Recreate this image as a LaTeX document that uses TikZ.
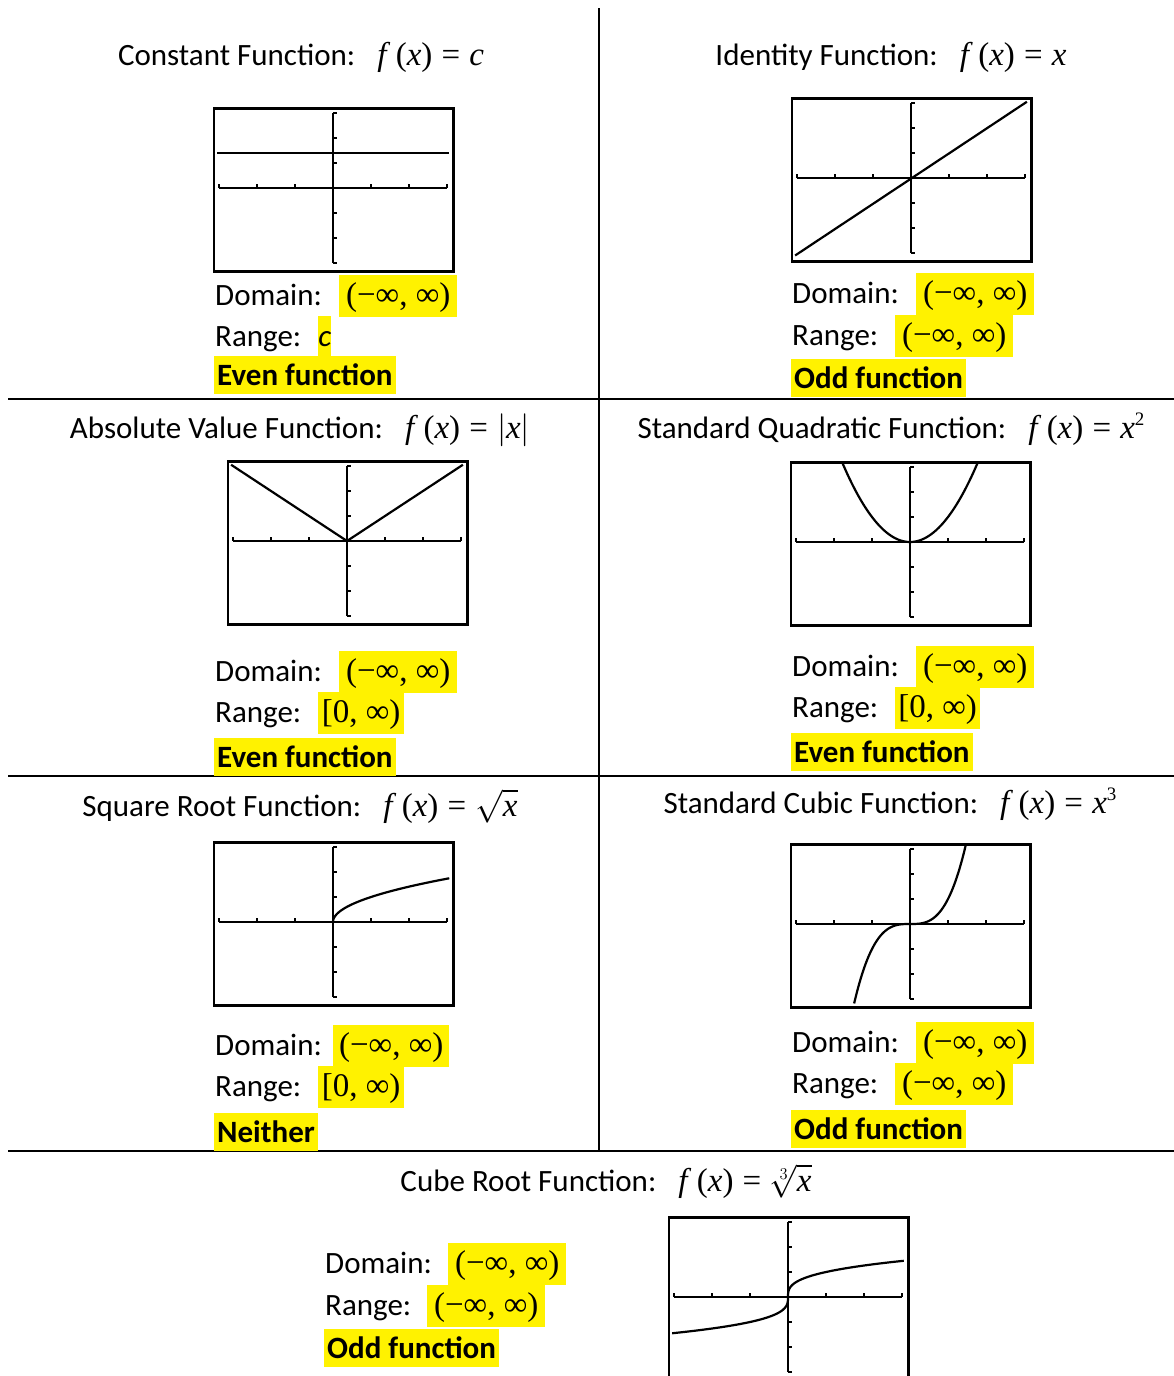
\RequirePackage{fix-cm}
\documentclass[tikz,border=0pt]{standalone}
\usepackage{fontspec}
\setmainfont{Carlito}
\newfontfamily\tnr{Liberation Serif}
\usetikzlibrary{positioning}

% formula text in Times-like serif
\newcommand\mth[1]{{\tnr\fontsize{33}{40}\selectfont #1}}
\newcommand\fofx{\textit{f}\,(\textit{x})\;=\;}
\newcommand\pw[1]{\raisebox{13pt}{\fontsize{19}{20}\selectfont #1}}
% calculator window: frame, axes and ticks
\newcommand\calcscreen{%
  \draw[frame] (-3.13,-3.33) rectangle (3.17,3.18);
  \draw[axis] (-3,0) -- (3,0);
  \draw[axis] (0,-3) -- (0,3);
  \foreach \t in {-3,-2,-1,1,2,3} {
    \draw[axis] (\t,0) -- (\t,0.16);
    \draw[axis] (0,\t) -- (0.1,\t);
  }%
}

\begin{document}
\begin{tikzpicture}[x=1pt,y=-1pt,
      rule/.style={line width=2.4pt},
      frame/.style={line width=2.8pt},
      axis/.style={line width=2.2pt},
      curve/.style={line width=2.2pt},
      ttl/.style={anchor=base,inner sep=0pt,font=\fontsize{31}{37}\selectfont},
      lbl/.style={anchor=base west,inner sep=0pt,font=\fontsize{31}{37}\selectfont},
      hl/.style={fill=yellow,anchor=base west,inner xsep=0pt,inner ysep=0pt,text height=30pt,text depth=12pt,font=\tnr\fontsize{33}{40}\selectfont},
      tag/.style={fill=yellow,anchor=base west,inner xsep=3pt,inner ysep=0pt,text height=29pt,text depth=9pt,font=\bfseries\fontsize{31}{37}\selectfont}
]
\useasboundingbox (0,0) rectangle (1174,1376);

% table rules
\draw[rule] (599,8) -- (599,1151);
\foreach \y in {399,776,1151} \draw[rule] (8,\y) -- (1174,\y);

% titles
\node[ttl] (t1) at (301,65) {Constant Function:\hspace{22pt}\mth{\fofx\textit{c}}};
\node[ttl] (t2) at (891,65) {Identity Function:\hspace{22pt}\mth{\fofx\textit{x}}};
\node[ttl] (t3) at (300,438) {Absolute Value Function:\hspace{22pt}\mth{\fofx$\bigl|\mbox{\textit{x}}\bigr|$}};
\node[ttl] (t4) at (891,438) {Standard Quadratic Function:\hspace{22pt}\mth{\fofx\textit{x}\pw{2}}};
\node[ttl] (t5) at (300,816) {Square Root Function:\hspace{22pt}\mth{\fofx$\sqrt{\mbox{\textit{x}}\vphantom{f}}$}};
\node[ttl] (t6) at (890,813) {Standard Cubic Function:\hspace{22pt}\mth{\fofx\textit{x}\pw{3}}};
\node[ttl] (t7) at (606,1191) {Cube Root Function:\hspace{22pt}\mth{\fofx$\sqrt[3]{\mbox{\textit{x}}\vphantom{f}}$}};

% graphs
\begin{scope}[shift={(333,188)},x=38pt,y=25pt]
  \calcscreen
  \draw[curve] (-3.05,1.4) -- (3.05,1.4);
\end{scope}
\begin{scope}[shift={(911,178)},x=38pt,y=25pt]
  \calcscreen
  \draw[curve] (-3.05,-3.1) -- (3.05,3.05);
\end{scope}
\begin{scope}[shift={(347,541)},x=38pt,y=25pt]
  \calcscreen
  \draw[curve] (-3.05,3.05) -- (0,0) -- (3.05,3.05);
\end{scope}
\begin{scope}[shift={(910,542)},x=38pt,y=25pt]
  \calcscreen
  \draw[curve] plot[domain=-1.77:1.77,samples=60,smooth] (\x,{\x*\x});
\end{scope}
\begin{scope}[shift={(333,922)},x=38pt,y=25pt]
  \calcscreen
  \draw[curve] plot[domain=0:1.75,samples=60,smooth] ({\x*\x},\x);
\end{scope}
\begin{scope}[shift={(910,924)},x=38pt,y=25pt]
  \calcscreen
  \draw[curve] plot[domain=-1.47:1.47,samples=60,smooth] (\x,{\x*\x*\x});
\end{scope}
\begin{scope}[shift={(788,1297)},x=38pt,y=25pt]
  \calcscreen
  \draw[curve] plot[domain=-1.45:1.45,samples=60,smooth] ({\x*\x*\x},\x);
\end{scope}

% domain / range labels
\foreach \n/\bx/\by/\ry in {1/215/305/346,2/792/303/345,3/215/681/722,4/792/676/717,5/215/1055/1096,6/792/1052/1093,7/325/1273/1315} {
  \node[lbl] (dom\n) at (\bx,\by) {Domain:};
  \node[lbl] (rng\n) at (\bx,\ry) {Range:};
}

% highlighted answers
\node[hl,minimum width=118pt] (dv1) at (339,305) {(−∞,\ ∞)};
\node[hl,minimum width=13pt,font=\itshape\fontsize{31}{37}\selectfont] (rv1) at (318,346) {c};
\node[tag] (p1) at (214,385) {Even function};

\node[hl,minimum width=118pt] (dv2) at (916,303) {(−∞,\ ∞)};
\node[hl,minimum width=118pt] (rv2) at (895,345) {(−∞,\ ∞)};
\node[tag] (p2) at (791,388) {Odd function};

\node[hl,minimum width=118pt] (dv3) at (339,681) {(−∞,\ ∞)};
\node[hl,minimum width=86pt] (rv3) at (318,722) {[0,\ ∞)};
\node[tag] (p3) at (214,767) {Even function};

\node[hl,minimum width=118pt] (dv4) at (916,676) {(−∞,\ ∞)};
\node[hl,minimum width=85pt] (rv4) at (895,717) {[0,\ ∞)};
\node[tag] (p4) at (791,762) {Even function};

\node[hl,minimum width=116pt] (dv5) at (333,1055) {(−∞,\ ∞)};
\node[hl,minimum width=86pt] (rv5) at (318,1096) {[0,\ ∞)};
\node[tag] (p5) at (214,1142) {Neither};

\node[hl,minimum width=118pt] (dv6) at (916,1052) {(−∞,\ ∞)};
\node[hl,minimum width=118pt] (rv6) at (895,1093) {(−∞,\ ∞)};
\node[tag] (p6) at (791,1139) {Odd function};

\node[hl,minimum width=118pt] (dv7) at (448,1273) {(−∞,\ ∞)};
\node[hl,minimum width=118pt] (rv7) at (427,1315) {(−∞,\ ∞)};
\node[tag] (p7) at (324,1358) {Odd function};
\end{tikzpicture}
\end{document}
